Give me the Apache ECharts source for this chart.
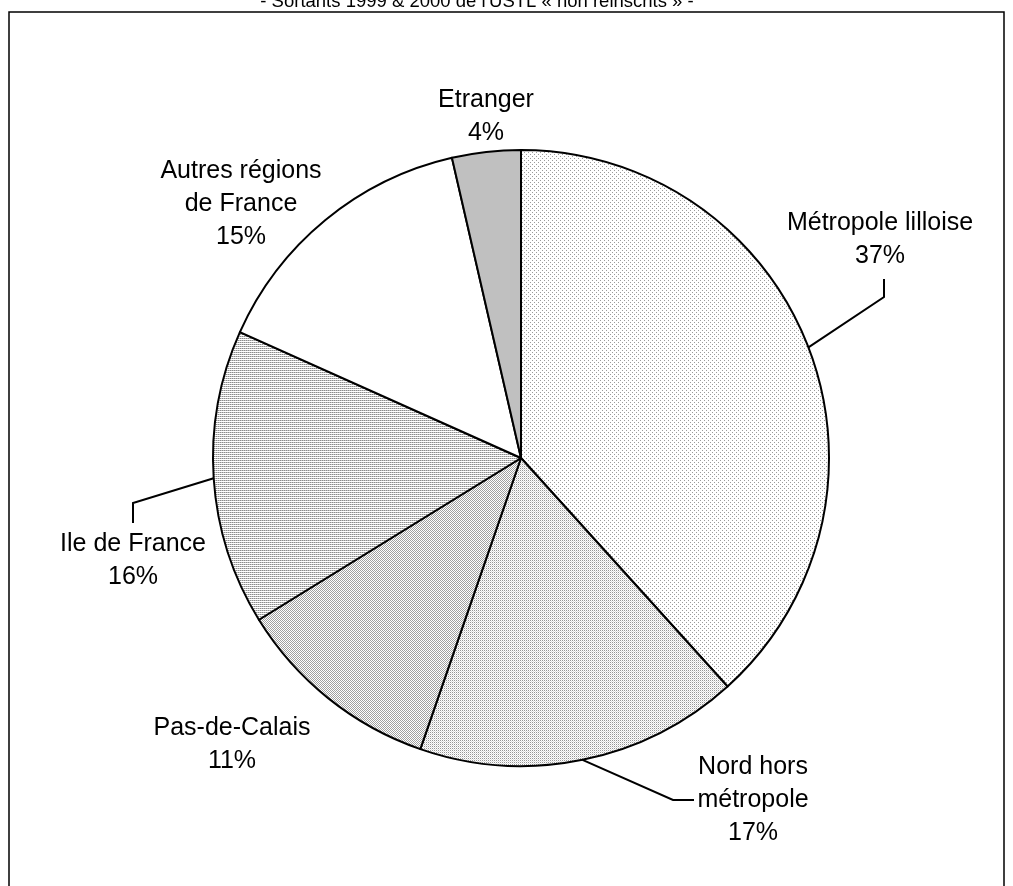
<!DOCTYPE html>
<html>
<head>
<meta charset="utf-8">
<script src="https://cdn.jsdelivr.net/npm/echarts@6/dist/echarts.min.js"></script>
<style>html,body{margin:0;padding:0;background:#fff;}#c{width:1013px;height:886px;}</style>
</head>
<body>
<div id="c"></div>
<script>
// Data
var categories = ['Métropole lilloise', 'Nord hors\nmétropole', 'Pas-de-Calais', 'Ile de France', 'Autres régions\nde France', 'Etranger'];
var values = [38.3, 17.0, 10.9, 15.5, 14.7, 3.6];
var percentLabels = ['37%', '17%', '11%', '16%', '15%', '4%'];
var titleText = "- Sortants 1999 & 2000 de l'USTL « non réinscrits » -";

function makePattern(w, h, pixels, bg) {
  var c = document.createElement('canvas');
  c.width = w; c.height = h;
  var ctx = c.getContext('2d');
  ctx.fillStyle = bg || '#ffffff';
  ctx.fillRect(0, 0, w, h);
  pixels.forEach(function (p) {
    ctx.fillStyle = p[2];
    ctx.fillRect(p[0], p[1], 1, 1);
  });
  return { image: c, repeat: 'repeat' };
}

var fills = [
  makePattern(4, 4, [[0, 0, '#9a9a9a'], [2, 2, '#9a9a9a']]),
  makePattern(2, 2, [[0, 0, '#969696'], [1, 1, '#dcdcdc']]),
  makePattern(2, 2, [[0, 0, '#a0a0a0'], [1, 1, '#a0a0a0']]),
  makePattern(2, 2, [[0, 0, '#8c8c8c'], [1, 0, '#c4c4c4']]),
  '#ffffff',
  '#c0c0c0'
];

// label placement (text block centres)
var labelPos = [[880, 240], [753, 800], [232, 745], [133, 561], [241, 204], [486, 117]];
// leader lines: [bend point, end point] (null = no leader)
var leaders = [
  [[884, 297], [884, 279]],
  [[673, 800], [694, 800]],
  null,
  [[133, 503], [133, 523]],
  null,
  null
];

var chart = echarts.init(document.getElementById('c'), null, { renderer: 'canvas' });

var seriesData = categories.map(function (name, i) {
  return {
    name: name,
    value: values[i],
    itemStyle: { color: fills[i] }
  };
});

chart.setOption({
  animation: false,
  backgroundColor: '#ffffff',
  graphic: [
    {
      type: 'rect', id: 'frame', z: -10, silent: true,
      shape: { x: 9, y: 12, width: 995, height: 900 },
      style: { fill: 'none', stroke: '#000', lineWidth: 1.5 }
    },
    {
      type: 'text', id: 'title', silent: true,
      style: {
        text: titleText, x: 477, y: 11, align: 'center', verticalAlign: 'bottom',
        font: '18.5px "Liberation Sans", Arial, sans-serif', fill: '#000'
      }
    }
  ],
  series: [{
    type: 'pie',
    center: [521, 458],
    radius: [0, 308],
    startAngle: 90,
    clockwise: true,
    avoidLabelOverlap: false,
    itemStyle: { borderColor: '#000', borderWidth: 2 },
    label: {
      show: true,
      position: 'outside',
      color: '#000',
      fontFamily: '"Liberation Sans", Arial, sans-serif',
      fontSize: 25,
      lineHeight: 33,
      align: 'center',
      formatter: function (p) { return p.name + '\n' + percentLabels[p.dataIndex]; }
    },
    labelLine: { show: false },
    labelLayout: function (p) {
      var pos = labelPos[p.dataIndex];
      return { x: pos[0], y: pos[1], align: 'center', verticalAlign: 'middle' };
    },
    emphasis: { disabled: true },
    data: seriesData
  }]
});

// leader lines starting at the mid-angle of each slice on the rim (from the library's pie layout)
var data = chart.getModel().getSeriesByIndex(0).getData();
var extra = [];
for (var i = 0; i < categories.length; i++) {
  if (!leaders[i]) continue;
  var lay = data.getItemLayout(i);
  var mid = (lay.startAngle + lay.endAngle) / 2;
  var p0 = [lay.cx + lay.r * Math.cos(mid), lay.cy + lay.r * Math.sin(mid)];
  extra.push({
    type: 'polyline', id: 'leader' + i, silent: true, z: 10,
    shape: { points: [p0, leaders[i][0], leaders[i][1]] },
    style: { stroke: '#000', lineWidth: 2, fill: 'none' }
  });
}
chart.setOption({ graphic: extra });
</script>
</body>
</html>
